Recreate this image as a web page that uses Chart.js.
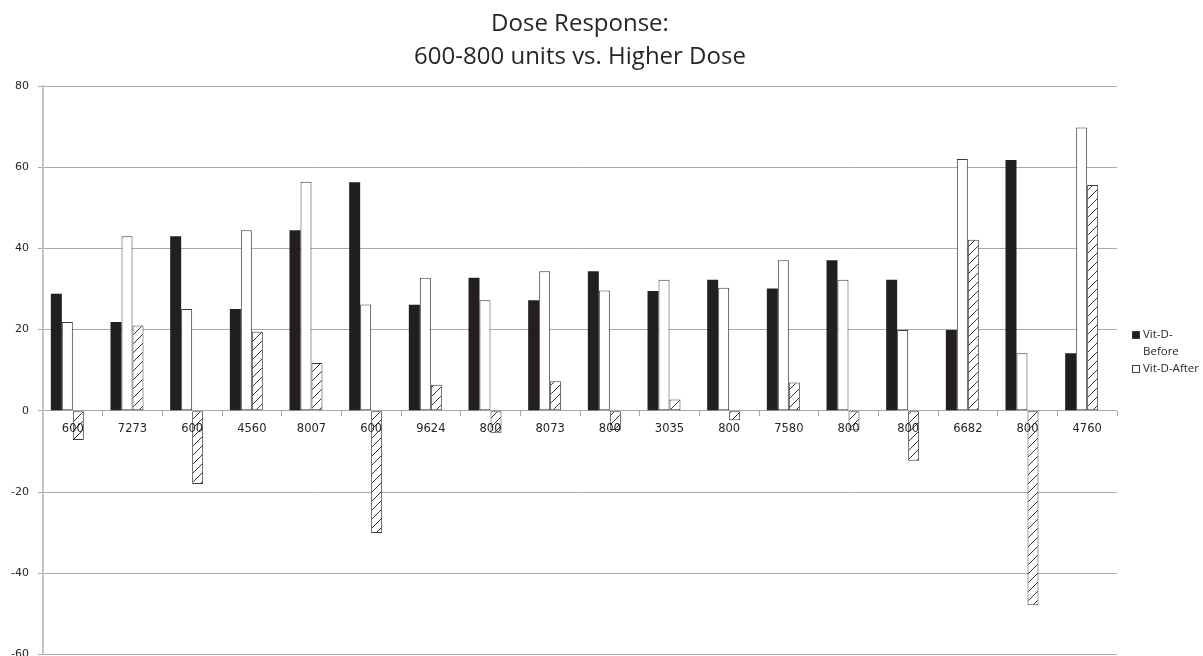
<!DOCTYPE html>
<html>
<head>
<meta charset="utf-8">
<script src="https://cdn.jsdelivr.net/npm/chart.js@4/dist/chart.umd.min.js"></script>
<style>
  html, body { margin: 0; padding: 0; background: #fff; overflow: hidden; }
</style>
</head>
<body>
<!-- canvas a bit taller than the window: the -60 line sits on the bottom edge like the original -->
<canvas id="chart" width="1203" height="670"></canvas>
<script>
// dose per patient (category labels)
const doses = ['600', '7273', '600', '4560', '8007', '600', '9624', '800', '8073',
  '800', '3035', '800', '7580', '800', '800', '6682', '800', '4760']

const vitDBefore = [28.8, 21.9, 43.0, 25.1, 44.5, 56.3, 26.1, 32.8, 27.2,
  34.4, 29.5, 32.3, 30.1, 37.1, 32.3, 19.9, 61.8, 14.2]

const vitDAfter = [21.9, 43.0, 25.1, 44.5, 56.4, 26.2, 32.8, 27.2, 34.4,
  29.6, 32.3, 30.3, 37.1, 32.3, 19.9, 62.0, 14.2, 69.8]

const vitDChange = [-7.2, 21.0, -18.0, 19.5, 11.8, -30.1, 6.4, -5.5, 7.3,
  -4.7, 2.8, -2.3, 7.0, -4.8, -12.3, 42.1, -47.9, 55.6]

const yTicks = [-60, -40, -20, 0, 20, 40, 60, 80]

const colors = {
  black: '#231f20',
  edge: '#3c3c3c',
  grid: '#a9a9a9',
  axis: '#c4c4c4',
  text: '#262626'
}

function makeHatch () {
  let c = document.createElement('canvas')
  c.width = 9
  c.height = 9
  let g = c.getContext('2d')
  g.fillStyle = '#ffffff'
  g.fillRect(0, 0, 9, 9)
  g.strokeStyle = '#333'
  g.lineWidth = 1
  g.beginPath()
  g.moveTo(-1, 10)
  g.lineTo(10, -1)
  g.stroke()
  return g.createPattern(c, 'repeat')
}

// excel-like legend, only the two vit-d series
const legendRows = [
  { fill: colors.black, lines: ['Vit-D-', 'Before'] },
  { fill: '#ffffff', lines: ['Vit-D-After'] }
]

const sideLegend = {
  id: 'sideLegend',
  afterDraw (chart) {
    let ctx = chart.ctx
    let x = 1132
    let y = 335
    ctx.save()
    ctx.font = '11.5px "Open Sans"'
    ctx.textBaseline = 'middle'
    ctx.textAlign = 'left'
    legendRows.forEach(row => {
      ctx.fillStyle = row.fill
      ctx.fillRect(x, y - 4, 8, 8)
      ctx.strokeStyle = colors.edge
      ctx.lineWidth = 1
      ctx.strokeRect(x + 0.5, y - 3.5, 7, 7)
      ctx.fillStyle = colors.text
      row.lines.forEach(line => {
        ctx.fillText(line, x + 11, y)
        y += 17
      })
    })
    ctx.restore()
  }
}

let chart = new Chart(document.getElementById('chart'), {
  type: 'bar',
  data: {
    labels: doses,
    datasets: [
      {
        label: 'Vit-D-Before',
        data: vitDBefore,
        backgroundColor: colors.black,
        borderWidth: 0
      },
      {
        label: 'Vit-D-After',
        data: vitDAfter,
        backgroundColor: '#ffffff',
        borderColor: colors.edge,
        borderWidth: 1,
        borderSkipped: false
      },
      {
        label: 'Change',
        data: vitDChange,
        backgroundColor: makeHatch(),
        borderColor: colors.edge,
        borderWidth: 1,
        borderSkipped: false
      },
      {
        // empty series, keeps the fourth slot like the original sheet
        label: '',
        data: []
      }
    ]
  },
  options: {
    responsive: false,
    animation: false,
    devicePixelRatio: 1,
    layout: { autoPadding: false, padding: { left: 0, right: 86, top: 0, bottom: 0 } },
    datasets: {
      bar: { categoryPercentage: 0.737, barPercentage: 1.0 }
    },
    plugins: {
      legend: { display: false },
      tooltip: { enabled: false },
      title: {
        display: true,
        fullSize: false,
        text: ['Dose Response:', '600-800 units vs. Higher Dose'],
        color: colors.text,
        font: { family: '"Open Sans"', size: 24, weight: 'normal', lineHeight: 1.375 },
        padding: { top: 8, bottom: 12 }
      }
    },
    scales: {
      x: {
        position: { y: 0 },
        afterFit (scale) { scale.height = 0 },
        grid: {
          offset: true,
          drawOnChartArea: false,
          drawTicks: true,
          tickLength: 5,
          color: colors.grid
        },
        border: { display: false },
        ticks: {
          z: 1,
          color: colors.text,
          padding: 6,
          maxRotation: 0,
          autoSkip: false,
          font: { family: '"DejaVu Sans"', size: 11.5 }
        }
      },
      y: {
        min: -60,
        max: 80,
        afterFit (scale) { scale.width = 43 },
        afterBuildTicks (scale) { scale.ticks = yTicks.map(v => ({ value: v })) },
        grid: { color: colors.grid, tickLength: 5, lineWidth: 1 },
        border: { color: colors.axis, width: 2 },
        ticks: {
          color: colors.text,
          padding: 9,
          font: { family: '"DejaVu Sans"', size: 11 }
        }
      }
    }
  },
  plugins: [sideLegend]
})
</script>
</body>
</html>
